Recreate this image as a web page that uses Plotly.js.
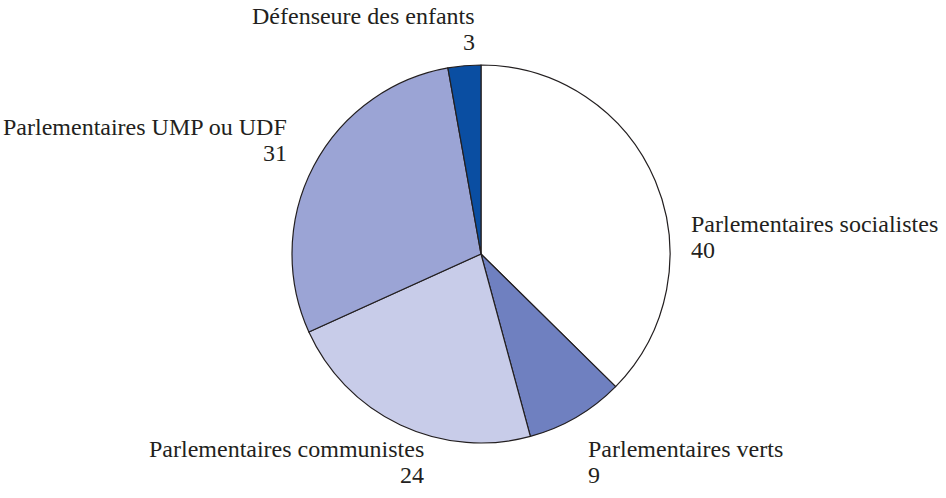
<!DOCTYPE html>
<html>
<head>
<meta charset="utf-8">
<script src="https://cdn.plot.ly/plotly-3.0.1.min.js"></script>
<style>html,body{margin:0;padding:0;background:#fff;}#chart{width:946px;height:498px;}</style>
</head>
<body>
<div id="chart"></div>
<script>
const labels = ["Parlementaires socialistes", "Parlementaires verts", "Parlementaires communistes", "Parlementaires UMP ou UDF", "Défenseure des enfants"];
const values = [40, 9, 24, 31, 3];
const colors = ["#ffffff", "#6f80c0", "#c8cce9", "#9ba4d5", "#0a4ea2"];

// label placement (pixels): x edge, baseline of first line, anchor side
const labelPos = [
  {x: 690, y: 232, side: "left"},
  {x: 587, y: 457, side: "left"},
  {x: 425, y: 457, side: "right"},
  {x: 288, y: 135, side: "right"},
  {x: 476, y: 24, side: "right"}
];
const lineGap = 26;
const baseShift = 8;

const W = 946, H = 498;
const FONT = {family: "Liberation Serif", size: 24, color: "#231f20"};
const annotations = [];
labels.forEach((lab, i) => {
  const p = labelPos[i];
  [lab, String(values[i])].forEach((txt, k) => {
    annotations.push({
      xref: "paper", yref: "paper",
      x: p.x / W, y: 1 - (p.y + k * lineGap - baseShift) / H,
      xanchor: p.side, yanchor: "middle", align: p.side,
      showarrow: false, borderpad: 0,
      text: txt, font: FONT
    });
  });
});

const trace = {
  type: "pie",
  labels: labels,
  values: values,
  sort: false,
  direction: "clockwise",
  rotation: 0,
  textinfo: "none",
  hoverinfo: "label+value",
  marker: {colors: colors, line: {color: "#231f20", width: 1.2}},
  domain: {x: [292 / W, 670 / W], y: [55 / H, 433 / H]}
};

Plotly.newPlot("chart", [trace], {
  width: W, height: H,
  margin: {l: 0, r: 0, t: 0, b: 0},
  paper_bgcolor: "#ffffff",
  showlegend: false,
  font: {family: "Liberation Serif"},
  annotations: annotations
}, {displayModeBar: false, staticPlot: true});
</script>
</body>
</html>
